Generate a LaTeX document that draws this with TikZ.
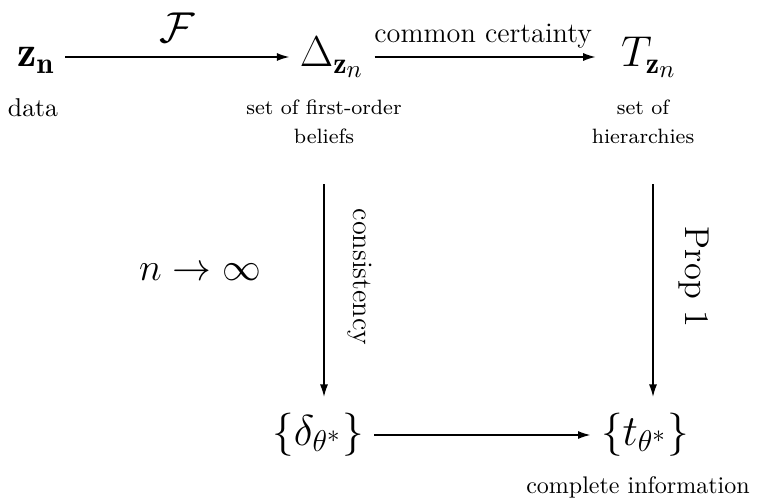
\RequirePackage{fix-cm}
\documentclass[tikz,border=0pt]{standalone}
\usepackage{amsmath,amssymb}
\usepackage{fontspec}
\usetikzlibrary{arrows.meta}

\begin{document}
\begin{tikzpicture}[
    x=0.4pt, y=-0.4pt,
    obj/.style={font=\fontsize{17.28}{21}\selectfont, inner sep=4pt, text height=12pt, text depth=4pt},
    lab/.style={font=\fontsize{11.3}{14}\selectfont, inner sep=1pt},
    desc/.style={font=\fontsize{8.3}{11.6}\selectfont, align=center, inner sep=2pt},
    arr/.style={-{Latex[length=5pt,width=3.2pt]}, line width=0.6pt}
]
\useasboundingbox (0,0) rectangle (759,498);

\node[obj] (zn) at (36,57) {$\mathbf{z_n}$};
\node[obj] (delta) at (332,57) {$\Delta_{\mathbf{z}_n}$};
\node[obj] (tz) at (649,57) {$T_{\mathbf{z}_n}$};
\node[obj] (dset) at (318,435) {$\{\delta_{\theta^*}\}$};
\node[obj] (tset) at (645,435) {$\{t_{\theta^*}\}$};

\node[font=\fontsize{10.3}{12}\selectfont] (data) at (33,108) {data};
\node[desc] (dlab) at (324,122) {set of first-order\\beliefs};
\node[desc] (tlab) at (643,122) {set of\\hierarchies};
\node[font=\fontsize{9.6}{12}\selectfont] (cinfo) at (638,487) {complete information};
\node[font=\fontsize{15.5}{18}\selectfont] (lim) at (200,272) {$n \to \infty$};

\draw[arr] (zn) -- (delta) node[lab, midway, above=5.5pt, inner sep=0pt, font=\fontsize{17.28}{21}\selectfont] (fmap) {$\mathcal{F}$};
\draw[arr, shorten >=6pt] (delta) -- (tz) node[lab, pos=0.46, above=2pt] (cc) {common certainty};
\draw[arr, shorten <=14pt, shorten >=3pt] (dlab.south) -- (dlab.south |- dset.north)
    node[lab, midway, right=8pt, rotate=-90, anchor=south] (cons) {consistency};
\draw[arr, shorten <=14pt, shorten >=3pt] ([xshift=4pt]tlab.south) -- ([xshift=4pt]tlab.south |- tset.north)
    node[lab, midway, rotate=-90, anchor=south, yshift=9pt, font=\fontsize{13.8}{16}\selectfont] (prop) {Prop 1};
\draw[arr] (dset) -- (tset);
\end{tikzpicture}
\end{document}
